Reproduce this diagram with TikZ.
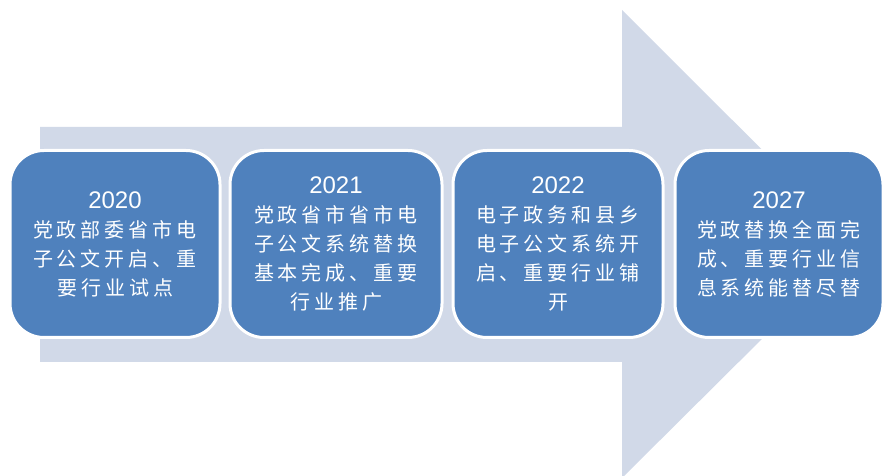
\documentclass[tikz,border=0pt]{standalone}
\usepackage{fontspec}
\usepackage{xcolor}
\usepackage{tikz}
\setmainfont{Liberation Sans}
\newfontfamily\cjk[LetterSpace=20]{Noto Sans CJK SC}
\definecolor{boxblue}{HTML}{4F81BD}
\definecolor{arrowgray}{HTML}{D1D9E8}
\newcommand{\yearfont}{\rmfamily\fontsize{24}{29}\selectfont}
\tikzset{
  stagebox/.style={draw=white, line width=3pt, fill=boxblue, rounded corners=34pt,
    minimum width=210pt, minimum height=187pt, inner sep=0pt,
    text=white, align=center, font=\cjk\fontsize{20}{29}\selectfont},
}

\begin{document}
\begin{tikzpicture}
  \useasboundingbox (0, 0) rectangle (883pt, 476pt);
  \fill[arrowgray] (40pt, 114pt) -- (40pt, 349pt) -- (622pt, 349pt) -- (622pt, 466pt)
    -- (857pt, 231.5pt) -- (622pt, -2pt) -- (622pt, 114pt) -- cycle;
  \node[stagebox] (s2020) at (115pt, 232pt) {{\yearfont 2020}\\党政部委省市电\\子公文开启、重\\要行业试点};
  \node[stagebox, minimum width=212pt] (s2021) at (336pt, 232pt) {{\yearfont 2021}\\党政省市省市电\\子公文系统替换\\基本完成、重要\\行业推广};
  \node[stagebox] (s2022) at (558pt, 232pt) {{\yearfont 2022}\\电子政务和县乡\\电子公文系统开\\启、重要行业铺\\开};
  \node[stagebox, minimum width=208pt] (s2027) at (779pt, 232pt) {{\yearfont 2027}\\党政替换全面完\\成、重要行业信\\息系统能替尽替};
\end{tikzpicture}
\end{document}
